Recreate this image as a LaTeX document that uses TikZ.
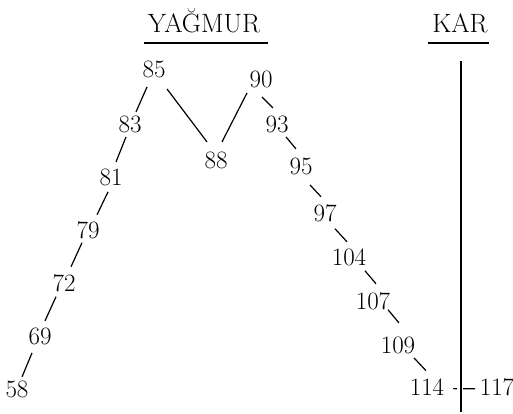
\documentclass[tikz,border=0pt]{standalone}
\begin{document}
\begin{tikzpicture}[x=1pt,y=-1pt,
  num/.style={anchor=base,inner sep=0pt,font=\fontsize{25}{30}\selectfont},
  ttl/.style={anchor=base,inner sep=0pt,font=\fontsize{26.5}{32}\selectfont},
  conn/.style={line width=1.2pt},
  rule/.style={line width=1.1pt}]
\useasboundingbox (0,0) rectangle (513,414);
% titles
\node[ttl] (yag) at (204,33) {YAĞMUR};
\node[ttl] (kar) at (460,33) {KAR};
\draw[rule] ([shift={(-60,10)}]yag.base) -- ([shift={(64,10)}]yag.base);
\draw[rule] ([shift={(-32,10)}]kar.base) -- ([shift={(29,10)}]kar.base);
\coordinate (karend) at (461,412);
\draw[line width=1.5pt] ([shift={(1,28)}]kar.base) -- (karend);
% numbers
\node[num] (n85) at (154,78) {85};
\node[num] (n90) at (261,88) {90};
\node[num] (n83) at (130,132) {83};
\node[num] (n88) at (216,168) {88};
\node[num] (n81) at (111,185) {81};
\node[num] (n93) at (277,132) {93};
\node[num] (n95) at (301,175) {95};
\node[num] (n79) at (88,238) {79};
\node[num] (n97) at (325,221) {97};
\node[num] (n72) at (64,291) {72};
\node[num] (n104) at (349,265) {104};
\node[num] (n69) at (40,344) {69};
\node[num] (n107) at (373,309) {107};
\node[num] (n58) at (17,397) {58};
\node[num] (n109) at (398,353) {109};
\node[num] (n114) at (427,395) {114};
\node[num] (n117) at (497,395) {117};
% connectors
\draw[conn] ([shift={(-7,17)}]n85.center) -- ([shift={(6,-12)}]n83.center);
\draw[conn] ([shift={(13,19)}]n85.center) -- ([shift={(-9,-18)}]n88.center);
\draw[conn] ([shift={(6,-18)}]n88.center) -- ([shift={(-14,13)}]n90.center);
\draw[conn] ([shift={(-4,13)}]n83.center) -- ([shift={(5,-15)}]n81.center);
\draw[conn] ([shift={(-3,15)}]n81.center) -- ([shift={(9,-15)}]n79.center);
\draw[conn] ([shift={(-6,13)}]n79.center) -- ([shift={(7,-16)}]n72.center);
\draw[conn] ([shift={(-8,14)}]n72.center) -- ([shift={(5,-15)}]n69.center);
\draw[conn] ([shift={(-8,17)}]n69.center) -- ([shift={(5,-12)}]n58.center);
\draw[conn] ([shift={(1,17)}]n90.center) -- ([shift={(-4,-16)}]n93.center);
\draw[conn] ([shift={(9,13)}]n93.center) -- ([shift={(-5,-18)}]n95.center);
\draw[conn] ([shift={(9,18)}]n95.center) -- ([shift={(-4,-16)}]n97.center);
\draw[conn] ([shift={(10,16)}]n97.center) -- ([shift={(-2,-15)}]n104.center);
\draw[conn] ([shift={(16,14)}]n104.center) -- ([shift={(3,-17)}]n107.center);
\draw[conn] ([shift={(15,9)}]n107.center) -- ([shift={(1,-22)}]n109.center);
\draw[conn] ([shift={(16,13)}]n109.center) -- ([shift={(-1,-16)}]n114.center);
\draw[conn,dash pattern=on 4pt off 6pt on 12pt off 100pt] ([shift={(26,2)}]n114.center) -- ([shift={(-22,2)}]n117.center);
\end{tikzpicture}
\end{document}
